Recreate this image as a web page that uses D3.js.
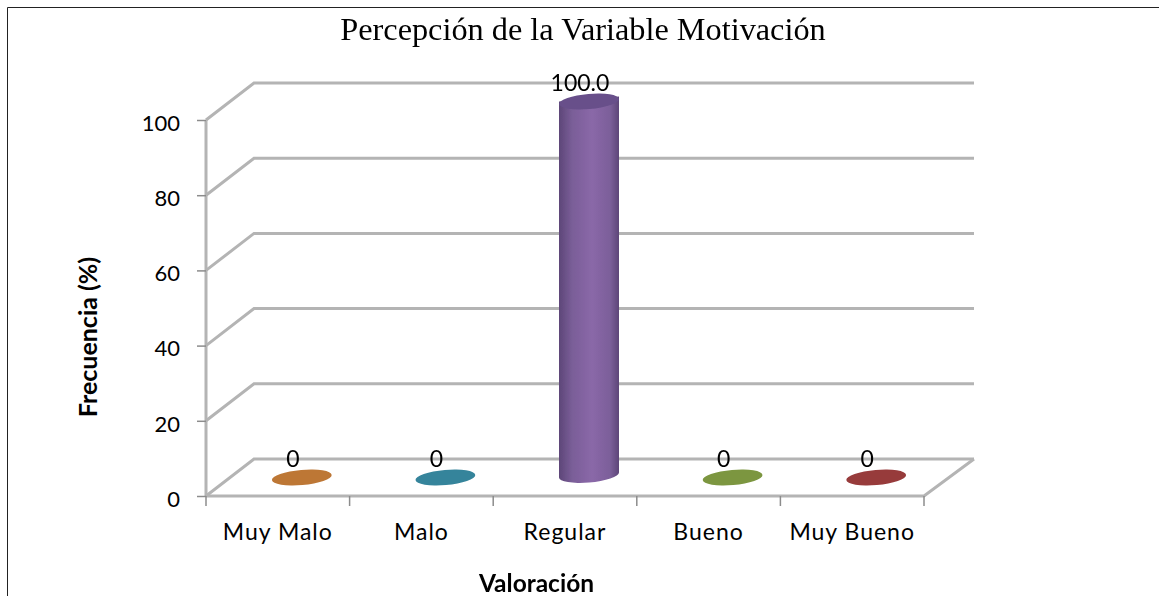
<!DOCTYPE html>
<html>
<head>
<meta charset="utf-8">
<script src="https://cdn.jsdelivr.net/npm/d3@7"></script>
<style>
  html, body { margin: 0; padding: 0; background: #fff; overflow: hidden; }
  text { fill: #000; }
</style>
</head>
<body>
<div id="chart"></div>
<script>
const categories = ["Muy Malo", "Malo", "Regular", "Bueno", "Muy Bueno"];
const values = [0, 0, 100, 0, 0];
const valueLabels = ["0", "0", "100.0", "0", "0"];
const yTicks = [0, 20, 40, 60, 80, 100];
const barColors = ["#bd7736", "#36849b", "#8a68a8", "#7b963f", "#973a3b"];
const capColors = ["#bd7736", "#36849b", "#67508a", "#7b963f", "#973a3b"];
const edgeColors = ["#bd7736", "#36849b", "#5d4678", "#7b963f", "#973a3b"];

const width = 1159, height = 596;
const gridColor = "#b4b4b4";
const depth = { x: 48, y: -37 };

const svg = d3.select("#chart").append("svg")
  .attr("width", width)
  .attr("height", height)
  .style("display", "block");

// outer frame, only top and left show in the crop
svg.append("line").attr("x1", 7.5).attr("x2", width).attr("y1", 7.5).attr("y2", 7.5)
  .attr("stroke", "#222").attr("stroke-width", 1);
svg.append("line").attr("x1", 7.5).attr("x2", 7.5).attr("y1", 7.5).attr("y2", height)
  .attr("stroke", "#222").attr("stroke-width", 1);

const x = d3.scaleBand().domain(categories).range([206, 924]);
const y = d3.scaleLinear().domain([0, 100]).range([496, 120]);

// cylinder gradient
const defs = svg.append("defs");
const grad = defs.append("linearGradient").attr("id", "cyl")
  .attr("x1", "0").attr("x2", "1").attr("y1", "0").attr("y2", "0");
grad.append("stop").attr("offset", "0").attr("stop-color", edgeColors[2]);
grad.append("stop").attr("offset", "0.22").attr("stop-color", "#7a5e98");
grad.append("stop").attr("offset", "0.55").attr("stop-color", barColors[2]);
grad.append("stop").attr("offset", "0.85").attr("stop-color", "#7c5f9a");
grad.append("stop").attr("offset", "1").attr("stop-color", edgeColors[2]);
defs.append("filter").attr("id", "soft")
  .append("feGaussianBlur").attr("stdDeviation", 0.6);

const walls = svg.append("g").attr("fill", "none").attr("stroke", gridColor)
  .attr("stroke-width", 3).attr("filter", "url(#soft)");

// back wall gridlines and the slanted side wall lines
yTicks.forEach(function (t) {
  walls.append("polyline")
    .attr("points", [
      [x.range()[0], y(t)],
      [x.range()[0] + depth.x, y(t) + depth.y],
      [x.range()[1] + depth.x + 2, y(t) + depth.y]
    ].join(" "));
});

// floor front edge and right side
walls.append("polyline")
  .attr("points", [
    [x.range()[0], y(0)],
    [x.range()[1], y(0)],
    [x.range()[1] + depth.x + 2, y(0) + depth.y]
  ].join(" "));

// vertical axis line goes with the walls, a filter on it alone would drop it
walls.append("line")
  .attr("x1", x.range()[0]).attr("x2", x.range()[0])
  .attr("y1", y(100)).attr("y2", y(0));

// y axis
const yAxis = d3.axisLeft(y).tickValues(yTicks).tickSize(9).tickSizeOuter(0).tickPadding(17);
const yG = svg.append("g").attr("transform", "translate(" + x.range()[0] + ",0)").call(yAxis);
yG.select(".domain").remove();
yG.selectAll(".tick line").attr("stroke", "#8c8c8c").attr("stroke-width", 1.5);
yG.selectAll("text").attr("dy", "0.47em").style("font-family", "Lato").style("font-size", "22px").style("fill", "#000");

// x axis ticks at the band edges
const edges = categories.map(function (c) { return x(c); }).concat([x.range()[1]]);
svg.append("g").selectAll("line").data(edges).enter().append("line")
  .attr("x1", function (d) { return d; })
  .attr("x2", function (d) { return d; })
  .attr("y1", y(0))
  .attr("y2", y(0) + 10)
  .attr("stroke", "#8c8c8c")
  .attr("stroke-width", 1.5);

svg.append("g").selectAll("text").data(categories).enter().append("text")
  .attr("x", function (d) { return x(d) + x.bandwidth() / 2; })
  .attr("y", 540)
  .attr("text-anchor", "middle")
  .style("font-family", "Lato")
  .style("font-size", "23px")
  .style("letter-spacing", "1px")
  .text(function (d) { return d; });

// cylinders sit half way into the floor depth
const rx = 30, ry = 7.5;
const cx = function (c) { return x(c) + x.bandwidth() / 2 + depth.x / 2; };
const cy = function (v) { return y(v) + depth.y / 2; };

const bars = svg.append("g").attr("filter", "url(#soft)");
categories.forEach(function (c, i) {
  const xc = cx(c), y0 = cy(0), y1 = cy(values[i]);
  if (values[i] > 0) {
    bars.append("path")
      .attr("d", "M" + (xc - rx) + "," + y1 + "L" + (xc - rx) + "," + y0 +
        "A" + rx + "," + ry + " -5 0 0 " + (xc + rx) + "," + (y0 - 5) +
        "L" + (xc + rx) + "," + (y1 - 5) + "Z")
      .attr("fill", "url(#cyl)");
  }
  bars.append("ellipse")
    .attr("cx", xc)
    .attr("cy", y1)
    .attr("rx", rx)
    .attr("ry", ry)
    .attr("transform", "rotate(-5 " + xc + " " + y1 + ")")
    .attr("fill", capColors[i]);
});

// value labels
svg.append("g").selectAll("text").data(categories).enter().append("text")
  .attr("x", function (d) { return x(d) + x.bandwidth() / 2 + 15; })
  .attr("y", function (d, i) { return y(values[i]) - 29; })
  .attr("text-anchor", "middle")
  .style("font-family", "Lato")
  .style("font-size", "23px")
  .text(function (d, i) { return valueLabels[i]; });

// titles
svg.append("text").attr("x", 583).attr("y", 40).attr("text-anchor", "middle")
  .style("font-family", "Liberation Serif").style("font-size", "32.3px")
  .text("Percepción de la Variable Motivación");

svg.append("text").attr("x", 536.5).attr("y", 592).attr("text-anchor", "middle")
  .style("font-family", "Lato").style("font-size", "24.5px").style("font-weight", "bold")
  .text("Valoración");

svg.append("text")
  .attr("transform", "translate(97,337) rotate(-90)")
  .attr("text-anchor", "middle")
  .style("font-family", "Lato").style("font-size", "25px").style("font-weight", "bold")
  .text("Frecuencia (%)");
</script>
</body>
</html>
